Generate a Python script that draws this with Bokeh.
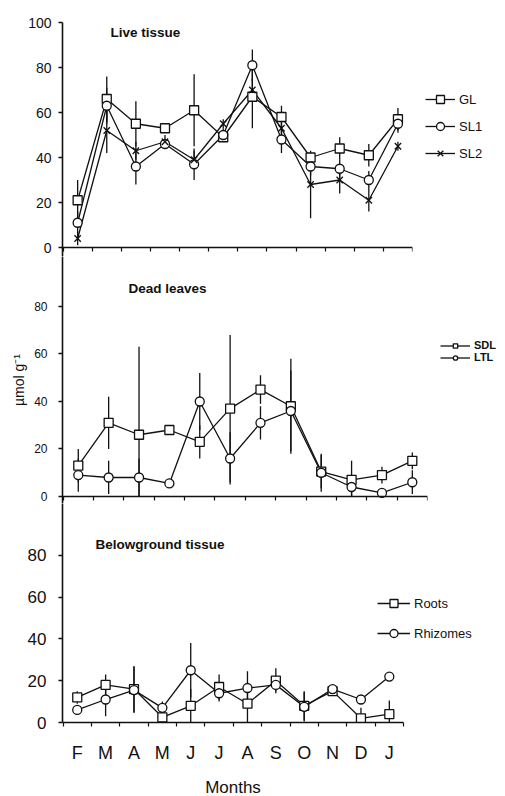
from bokeh.plotting import figure
from bokeh.layouts import column
from bokeh.models import FixedTicker, Legend, LegendItem, Label, Range1d, ColumnDataSource
from bokeh.embed import file_html
from bokeh.resources import INLINE

# ---------------- data ----------------
months = ["F", "M", "A", "M", "J", "J", "A", "S", "O", "N", "D", "J"]
x = list(range(12))

# Live tissue
GL = [21, 66, 55, 53, 61, 49, 67, 58, 40, 44, 41, 57]
GL_err = [9, 10, 10, 2, 16, 2, 14, 5, 2, 5, 5, 5]
SL1 = [11, 63, 36, 46, 37, 50, 81, 48, 36, 35, 30, 55]
SL1_err = [5, 8, 8, 2, 7, 3, 7, 6, 4, 4, 4, 4]
SL2 = [4, 52, 43, 47, 39, 55, 70, 53, 28, 30, 21, 45]
SL2_err = [3, 10, 4, 3, 4, 2, 5, 4, 15, 6, 5, 2]

# Dead leaves
SDL = [13, 31, 26, 28, 23, 37, 45, 38, 10.5, 7, 9, 15]
SDL_err = [7, 11, 37, 1, 7, 31, 6, 20, 7, 8, 3.5, 3.5]
LTL = [9, 8, 8, 5.5, 40, 16, 31, 36, 10, 4, 1.5, 6]
LTL_err = [7, 7, 8, 1, 12, 11, 7, 17, 8, 4, 2, 5]

# Belowground tissue
Roots = [12, 18, 16, 2.5, 8, 17, 9, 20, 8, 15, 2, 4]
Roots_err = [3, 5, 11, 2, 8, 6, 9, 6, 7, 2, 5, 6.5]
Rhizomes = [6, 11, 15.5, 7, 25, 14, 16.5, 18, 7.5, 16, 11, 22]
Rhizomes_err = [2, 8, 11, 3, 13, 4, 8, 3, 7, 2, 2, 1]

FONT = "Liberation Sans"
INK = "#111111"
halfs = [i - 0.5 for i in range(13)]


def make_fig(frame_w, frame_h, y_start, y_end, yticks, ytick_size, ystandoff,
             top_b, bottom_b, right_b):
    p = figure(frame_width=frame_w, frame_height=frame_h,
               x_range=Range1d(-0.52, 11.5), y_range=Range1d(y_start, y_end),
               output_backend="svg", toolbar_location=None,
               min_border_left=62, min_border_right=right_b,
               min_border_top=top_b, min_border_bottom=bottom_b)
    p.outline_line_color = None
    p.xgrid.visible = False
    p.ygrid.visible = False
    p.background_fill_color = "white"
    p.border_fill_color = "white"
    ya = p.yaxis[0]
    ya.ticker = FixedTicker(ticks=yticks)
    ya.major_tick_out = 4
    ya.major_tick_in = 0
    ya.minor_tick_out = 0
    ya.minor_tick_in = 0
    ya.axis_line_width = 1.6
    ya.axis_line_color = INK
    ya.major_tick_line_color = INK
    ya.major_tick_line_width = 1.4
    ya.major_label_text_font = FONT
    ya.major_label_text_font_size = ytick_size
    ya.major_label_text_color = INK
    ya.major_label_standoff = ystandoff
    xa = p.xaxis[0]
    xa.axis_line_width = 1.6
    xa.axis_line_color = INK
    xa.minor_tick_line_color = INK
    xa.minor_tick_line_width = 1.2
    return p


def series(p, y, err):
    src = ColumnDataSource(dict(x=x, y=y,
                                lo=[max(v - e, 0) for v, e in zip(y, err)],
                                hi=[v + e for v, e in zip(y, err)]))
    p.segment(x0="x", y0="lo", x1="x", y1="hi", source=src,
              line_color=INK, line_width=1.3)
    ln = p.line("x", "y", source=src, line_color=INK, line_width=1.3)
    return src, ln


def markers(p, src, marker, size=9):
    return p.scatter("x", "y", source=src, marker=marker, size=size,
                     fill_color="white", line_color=INK, line_width=1.3)


def inner_x(p):
    xa = p.xaxis[0]
    xa.fixed_location = 0
    xa.ticker = FixedTicker(ticks=[], minor_ticks=halfs)
    xa.major_tick_out = 0
    xa.major_tick_in = 0
    xa.minor_tick_out = 4
    xa.minor_tick_in = 0
    xa.major_label_standoff = 0
    xa.major_label_text_font_size = "0px"


def add_legend(p, items, loc, size, gh, spacing, gw=30, style="normal"):
    leg = Legend(items=items, location=loc, border_line_color=None,
                 background_fill_alpha=0, padding=0, margin=0,
                 spacing=spacing, glyph_width=gw, glyph_height=gh,
                 label_height=gh, label_standoff=4,
                 label_text_font=FONT, label_text_font_size=size,
                 label_text_font_style=style, label_text_color=INK)
    p.add_layout(leg, "right")


# ---------------- top: Live tissue ----------------
p1 = make_fig(350, 234, -4, 100, [0, 20, 40, 60, 80, 100], "14px", 7, 22, 0, 93)
inner_x(p1)
s_gl, l_gl = series(p1, GL, GL_err)
s_s1, l_s1 = series(p1, SL1, SL1_err)
s_s2, l_s2 = series(p1, SL2, SL2_err)
m_gl = markers(p1, s_gl, "square")
m_s1 = markers(p1, s_s1, "circle")
m_s2 = markers(p1, s_s2, "x")
add_legend(p1, [LegendItem(label="GL", renderers=[l_gl, m_gl]),
                LegendItem(label="SL1", renderers=[l_s1, m_s1]),
                LegendItem(label="SL2", renderers=[l_s2, m_s2])],
           (13, 93), "13px", 20, 7)
p1.add_layout(Label(x=1.13, y=95.5, text="Live tissue", text_font=FONT,
                    text_font_size="13.5px", text_font_style="bold",
                    text_baseline="middle", text_color=INK))

# ---------------- middle: Dead leaves ----------------
p2 = make_fig(365, 247, -2.95, 101.05, [0, 20, 40, 60, 80], "12px", 11, 0, 0, 78)
inner_x(p2)
p2.yaxis[0].axis_label = "µmol g⁻¹"
p2.yaxis[0].axis_label_text_font = FONT
p2.yaxis[0].axis_label_text_font_size = "14px"
p2.yaxis[0].axis_label_text_font_style = "normal"
p2.yaxis[0].axis_label_text_color = INK
p2.yaxis[0].axis_label_standoff = 4
s_sdl, l_sdl = series(p2, SDL, SDL_err)
s_ltl, l_ltl = series(p2, LTL, LTL_err)
m_sdl = markers(p2, s_sdl, "square")
m_ltl = markers(p2, s_ltl, "circle")
add_legend(p2, [LegendItem(label="SDL", renderers=[l_sdl, m_sdl]),
                LegendItem(label="LTL", renderers=[l_ltl, m_ltl])],
           (13, 140), "11px", 11, 0, style="bold")
p2.add_layout(Label(x=1.65, y=87.6, text="Dead leaves", text_font=FONT,
                    text_font_size="13.5px", text_font_style="bold",
                    text_baseline="middle", text_color=INK))

# ---------------- bottom: Belowground tissue ----------------
p3 = make_fig(341, 219, 0, 104.8, [0, 20, 40, 60, 80], "17px", 12, 0, 74, 102)
xa = p3.xaxis[0]
xa.ticker = FixedTicker(ticks=x, minor_ticks=halfs)
xa.major_label_overrides = {i: m for i, m in enumerate(months)}
xa.major_tick_out = 0
xa.major_tick_in = 0
xa.minor_tick_out = 4
xa.minor_tick_in = 0
xa.major_label_standoff = 16
xa.major_label_text_font = FONT
xa.major_label_text_font_size = "18px"
xa.major_label_text_color = INK
xa.axis_label = "Months"
xa.axis_label_text_font = FONT
xa.axis_label_text_font_size = "17px"
xa.axis_label_text_font_style = "normal"
xa.axis_label_text_color = INK
xa.axis_label_standoff = 12
s_ro, l_ro = series(p3, Roots, Roots_err)
s_rh, l_rh = series(p3, Rhizomes, Rhizomes_err)
m_ro = markers(p3, s_ro, "square")
m_rh = markers(p3, s_rh, "circle")
add_legend(p3, [LegendItem(label="Roots", renderers=[l_ro, m_ro]),
                LegendItem(label="Rhizomes", renderers=[l_rh, m_rh])],
           (-26, 79), "13px", 20, 10, gw=33)
p3.add_layout(Label(x=0.64, y=85.2, text="Belowground tissue", text_font=FONT,
                    text_font_size="13.5px", text_font_style="bold",
                    text_baseline="middle", text_color=INK))

layout = column(p1, p2, p3, spacing=0)
open("out.html", "w").write(file_html(layout, INLINE))
